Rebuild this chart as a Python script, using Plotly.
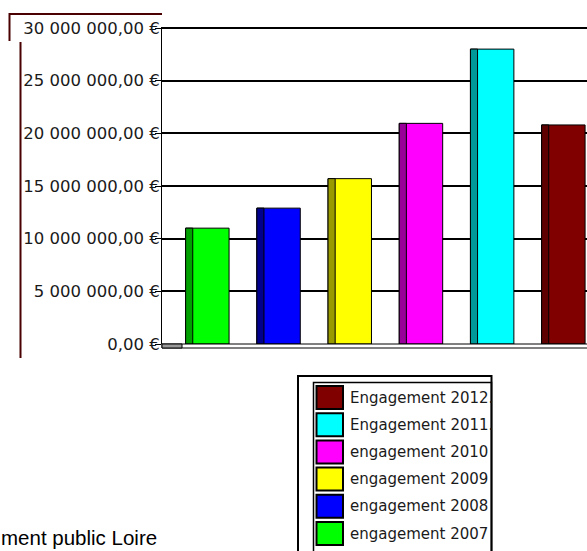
import plotly.graph_objects as go

# ---- data ----
series = ["engagement 2007", "engagement 2008", "engagement 2009",
          "engagement 2010", "Engagement 2011.", "Engagement 2012."]
values = [11.0e6, 12.9e6, 15.7e6, 20.95e6, 28.0e6, 20.8e6]
colors = ["#00ff00", "#0000ff", "#ffff00", "#ff00ff", "#00ffff", "#800000"]
shades = ["#00a000", "#00008c", "#999900", "#990099", "#009999", "#5e0000"]
tick_values = [0, 5e6, 10e6, 15e6, 20e6, 25e6, 30e6]
tick_labels = ["0,00 €", "5 000 000,00 €", "10 000 000,00 €", "15 000 000,00 €",
               "20 000 000,00 €", "25 000 000,00 €", "30 000 000,00 €"]
footer = "ment public Loire"

# ---- geometry ----
W, H = 587, 551
L, T, PB = 162, 27, 344
PW, PH = W - L, PB - T


def px(x):
    return (x - L) / PW


def py(y):
    return (PB - y) / PH


fig = go.Figure()
for name, v, c, s in zip(series, values, colors, shades):
    fig.add_trace(go.Bar(x=[name], y=[v], name=name, width=0.61, offset=-0.30,
                         marker=dict(color=c, line=dict(color="#000000", width=1)),
                         showlegend=False))
    fig.add_trace(go.Bar(x=[name], y=[v], name=name, width=0.10, offset=-0.30,
                         marker=dict(color=s, line=dict(color="#000000", width=1)),
                         showlegend=False, hoverinfo="skip"))

shapes = []
ann = []
maroon = "#4a0000"
shapes.append(dict(type="line", xref="paper", yref="paper", x0=px(9), x1=px(162),
                   y0=py(14), y1=py(14), line=dict(color=maroon, width=2)))
shapes.append(dict(type="line", xref="paper", yref="paper", x0=px(9.5), x1=px(9.5),
                   y0=py(13), y1=py(41), line=dict(color=maroon, width=2)))
shapes.append(dict(type="line", xref="paper", yref="paper", x0=px(20.5), x1=px(20.5),
                   y0=py(42), y1=py(358), line=dict(color=maroon, width=2)))
# floor
shapes.append(dict(type="rect", xref="paper", yref="paper", x0=px(162), x1=px(592),
                   y0=py(344), y1=py(348), fillcolor="#ffffff",
                   line=dict(color="#000000", width=1)))
shapes.append(dict(type="rect", xref="paper", yref="paper", x0=px(162), x1=px(182),
                   y0=py(344), y1=py(348), fillcolor="#999999",
                   line=dict(color="#000000", width=1)))
# legend frames
shapes.append(dict(type="rect", xref="paper", yref="paper", x0=px(298), x1=px(491.5),
                   y0=py(376), y1=py(570), line=dict(color="#000000", width=2)))
shapes.append(dict(type="rect", xref="paper", yref="paper", x0=px(313.5), x1=px(491.5),
                   y0=py(382.5), y1=py(570), line=dict(color="#000000", width=1.5)))

row_top, pitch = 386, 27.2
for i, idx in enumerate(reversed(range(len(series)))):
    y0 = row_top + i * pitch
    shapes.append(dict(type="rect", xref="paper", yref="paper", x0=px(316.5), x1=px(343),
                       y0=py(y0), y1=py(y0 + 23), fillcolor=colors[idx],
                       line=dict(color="#000000", width=2)))
    ann.append(dict(text=series[idx], xref="paper", yref="paper", x=px(348), y=py(y0 + 11.5),
                    xanchor="left", yanchor="middle", showarrow=False,
                    font=dict(family="DejaVu Sans", size=15, color="#1a1a1a")))

ann.append(dict(text=footer, xref="paper", yref="paper", x=px(-1), y=py(537),
                xanchor="left", yanchor="middle", showarrow=False,
                font=dict(family="Liberation Sans, Arial", size=20.5, color="#000000")))

fig.update_layout(
    width=W, height=H,
    margin=dict(l=L, r=0, t=T, b=H - PB, pad=0),
    paper_bgcolor="#ffffff", plot_bgcolor="#ffffff",
    barmode="overlay", showlegend=False,
    shapes=shapes, annotations=ann,
    xaxis=dict(type="category", categoryorder="array", categoryarray=series,
               range=[-0.632, 5.337], showticklabels=False, showgrid=False,
               zeroline=False, showline=False, ticks=""),
    yaxis=dict(range=[0, 30.1e6], tickvals=tick_values, ticktext=tick_labels,
               showgrid=True, gridcolor="#000000", gridwidth=2,
               zeroline=False, showline=True, linecolor="#000000", linewidth=1,
               ticks="outside", ticklen=6, tickcolor="#000000", tickwidth=1,
               ticklabelstandoff=-8,
               tickfont=dict(family="DejaVu Sans", size=16.5, color="#1a1a1a")),
)

fig.write_html("out.html")
